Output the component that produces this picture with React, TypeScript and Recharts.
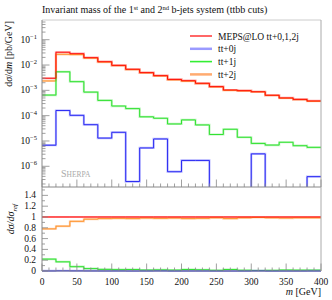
import React from 'react';
import { LineChart, Line, XAxis, YAxis } from 'recharts';

// ---- data (20 GeV bins, 0-400 GeV) ----
const binEdges = [0, 20, 40, 60, 80, 100, 120, 140, 160, 180, 200, 220, 240, 260, 280, 300, 320, 340, 360, 380, 400];

const mepsTotal = [3.0e-3, 0.032, 0.028, 0.0195, 0.0135, 0.0097, 0.0068, 0.005, 0.0038, 0.0027, 0.0024, 0.0019, 0.0014, 0.00103, 0.00097, 0.00088, 0.00064, 0.0005, 0.00044, 0.00038];
const tt0j = [6.8e-6, 1.6e-4, 1.03e-4, 4.4e-5, 1.3e-5, 2.2e-5, 2.5e-7, 5.3e-6, 1.2e-5, 6.1e-7, 1.7e-6, 1.7e-6, 0, 0, 0, 3.1e-6, 0, 0, 0, 3.9e-7];
const tt1j = [6.5e-4, 5.4e-3, 2.2e-3, 8.5e-4, 4.0e-4, 2.4e-4, 1.9e-4, 9.0e-5, 7.9e-5, 4.7e-5, 6.8e-5, 4.3e-5, 1.8e-5, 2.9e-5, 1.4e-5, 8.0e-6, 6.9e-6, 8.9e-6, 6.5e-6, 5.6e-6];
const tt2j = [2.35e-3, 0.0265, 0.0258, 0.0187, 0.0131, 0.0095, 0.0066, 0.0049, 0.0037, 0.0026, 0.0023, 0.00185, 0.00137, 0.001, 0.00095, 0.00087, 0.00063, 0.00049, 0.00043, 0.00037];

const ratioMeps = [1, 1, 1, 1, 1, 1, 1, 1, 1, 1, 1, 1, 1, 1, 1, 1, 1, 1, 1, 1];
const ratio0j = [0.002, 0.005, 0.004, 0.002, 0.001, 0.002, 0, 0.001, 0.003, 0, 0.001, 0.001, 0, 0, 0, 0.004, 0, 0, 0, 0.001];
const ratio1j = [0.22, 0.17, 0.08, 0.045, 0.03, 0.025, 0.028, 0.018, 0.021, 0.017, 0.028, 0.023, 0.013, 0.028, 0.014, 0.009, 0.011, 0.018, 0.015, 0.015];
const ratio2j = [0.78, 0.83, 0.92, 0.96, 0.97, 0.975, 0.97, 0.98, 0.975, 0.98, 0.97, 0.975, 0.985, 0.97, 0.985, 0.99, 0.985, 0.98, 0.985, 0.985];

const xTickValues = [0, 50, 100, 150, 200, 250, 300, 350, 400];
const xTickLabels = ['0', '50', '100', '150', '200', '250', '300', '350', '400'];
const mainDecades = [-7, -6, -5, -4, -3, -2, -1];
const ratioTickValues = [0, 0.2, 0.4, 0.6, 0.8, 1, 1.2, 1.4];
const ratioTickLabels = ['0', '0.2', '0.4', '0.6', '0.8', '1', '1.2', '1.4'];

const legendNames = ['MEPS@LO tt+0,1,2j', 'tt+0j', 'tt+1j', 'tt+2j'];

// ---- derived tables ----
const LOG_MIN = 1.52e-7;
const LOG_MAX = 0.6;
const FLOOR = 1e-12;
const pick = (arr: number[], i: number) => arr[Math.min(i, arr.length - 1)];
const pos = (v: number) => (v > 0 ? v : FLOOR);

const mainRows = binEdges.map((x, i) => ({
  x,
  meps: pos(pick(mepsTotal, i)),
  j0: pos(pick(tt0j, i)),
  j1: pos(pick(tt1j, i)),
  j2: pos(pick(tt2j, i)),
}));
const ratioRows = binEdges.map((x, i) => ({
  x,
  meps: pick(ratioMeps, i),
  j0: pick(ratio0j, i),
  j1: pick(ratio1j, i),
  j2: pick(ratio2j, i),
}));

const xMinorTicks: number[] = [];
for (let v = 0; v <= 400; v += 10) xMinorTicks.push(v);

const mainYTicks: number[] = [];
mainDecades.forEach((d) => {
  for (let k = 1; k <= 9; k++) {
    const v = k * Math.pow(10, d);
    if (v >= LOG_MIN && v <= LOG_MAX) mainYTicks.push(v);
  }
});
const ratioYTicks: number[] = [];
for (let k = 0; k <= 15; k++) ratioYTicks.push(k / 10);

// ---- style ----
const FONT = "'Liberation Serif', 'DejaVu Serif', serif";
const AXIS = '#888';
const FRAME = '#aaa';
const C = {
  meps: '#ff0000', mepsBand: '#ff8080',
  j0: '#1c1cf0', j0Band: '#a0a0ff',
  j1: '#22e022', j1Band: '#a0f0a0',
  j2: '#ff8a1a', j2Band: '#ffc89a',
};
const txt = { fontFamily: FONT } as React.CSSProperties;

const XTickUp = (withLabel: boolean) => (props: any) => {
  const { x, y, payload } = props;
  const v = payload.value as number;
  const major = v % 50 === 0;
  const idx = xTickValues.indexOf(v);
  return (
    <g>
      <line x1={x} x2={x} y1={y} y2={y - (major ? 7.5 : 3.5)} stroke={AXIS} strokeWidth={0.8} />
      {withLabel && major && idx >= 0 ? (
        <text x={x} y={y + 13.5} textAnchor="middle" fontSize={9.5} style={txt} fill="#111">
          {xTickLabels[idx]}
        </text>
      ) : null}
    </g>
  );
};

const MainYTick = (props: any) => {
  const { x, y, payload } = props;
  const v = payload.value as number;
  const e = Math.log10(v);
  const major = Math.abs(e - Math.round(e)) < 1e-6;
  const exp = Math.round(e);
  return (
    <g>
      <line x1={x} x2={x + (major ? 7.5 : 3.5)} y1={y} y2={y} stroke={AXIS} strokeWidth={0.8} />
      {major && mainDecades.indexOf(exp) >= 0 && exp >= -6 ? (
        <text x={x - 5} y={y + 3} textAnchor="end" fontSize={9.5} style={txt} fill="#111">
          <tspan>10</tspan>
          <tspan dy={-4} fontSize={6.5}>{'\u2212' + String(-exp)}</tspan>
        </text>
      ) : null}
    </g>
  );
};

const RatioYTick = (props: any) => {
  const { x, y, payload } = props;
  const v = payload.value as number;
  const tenth = Math.round(v * 10);
  const major = tenth % 2 === 0;
  const idx = ratioTickValues.findIndex((t) => Math.abs(t - v) < 1e-6);
  return (
    <g>
      <line x1={x} x2={x + (major ? 6 : 3)} y1={y} y2={y} stroke={AXIS} strokeWidth={0.8} />
      {major && idx >= 0 ? (
        <text x={x - 6} y={y + 3} textAnchor="end" fontSize={9.5} style={txt} fill="#111">
          {ratioTickLabels[idx]}
        </text>
      ) : null}
    </g>
  );
};

const seriesLines = (keys: Array<'meps' | 'j0' | 'j1' | 'j2'>) => {
  const out: any[] = [];
  const order: Array<'j2' | 'j1' | 'j0' | 'meps'> = ['j2', 'j1', 'j0', 'meps'];
  order.forEach((k) => {
    if (keys.indexOf(k) < 0) return;
    out.push(
      <Line key={k + 'b'} dataKey={k} type="stepAfter" dot={false} activeDot={false}
        stroke={(C as any)[k + 'Band']} strokeWidth={2.2} strokeOpacity={0.7} isAnimationActive={false} />
    );
  });
  order.forEach((k) => {
    if (keys.indexOf(k) < 0) return;
    out.push(
      <Line key={k} dataKey={k} type="stepAfter" dot={false} activeDot={false}
        stroke={(C as any)[k]} strokeWidth={0.9} isAnimationActive={false} />
    );
  });
  return out;
};

const legendStyles = [
  { color: C.meps, w: 1.2 },
  { color: '#9a9aff', w: 2.5 },
  { color: '#33ee33', w: 1.6 },
  { color: '#ffab70', w: 2.5 },
];

export default function App() {
  return (
    <div style={{ position: 'absolute', left: 0, top: 0, width: 332, height: 300, background: '#fff' }}>
      <div style={{ position: 'absolute', left: 0, top: 0 }}>
        <LineChart width={332} height={190} data={mainRows} margin={{ top: 19, right: 0, bottom: 0, left: 0 }}>
          <XAxis xAxisId="top" orientation="top" dataKey="x" type="number" domain={[0, 400]} height={1}
            tick={false} tickLine={false} axisLine={{ stroke: '#ccc' }} />
          <XAxis dataKey="x" type="number" domain={[0, 400]} ticks={xMinorTicks} interval={0} height={3}
            tickSize={0} tickMargin={0} tickLine={false} axisLine={{ stroke: AXIS }} tick={XTickUp(false)} />
          <YAxis scale="log" type="number" domain={[LOG_MIN, LOG_MAX]} allowDataOverflow ticks={mainYTicks}
            interval={0} width={42} tickSize={0} tickMargin={0} tickLine={false} axisLine={{ stroke: AXIS }} tick={MainYTick} />
          <YAxis yAxisId="right" orientation="right" type="number" domain={[0, 1]} width={11}
            tick={false} tickLine={false} axisLine={{ stroke: FRAME }} />
          {seriesLines(['meps', 'j0', 'j1', 'j2'])}
        </LineChart>
      </div>
      <div style={{ position: 'absolute', left: 0, top: 187 }}>
        <LineChart width={332} height={113} data={ratioRows} margin={{ top: 0, right: 0, bottom: 0, left: 0 }}>
          <XAxis dataKey="x" type="number" domain={[0, 400]} ticks={xMinorTicks} interval={0} height={29}
            tickSize={0} tickMargin={0} tickLine={false} axisLine={{ stroke: AXIS }} tick={XTickUp(true)} />
          <YAxis type="number" domain={[0, 1.555]} ticks={ratioYTicks} interval={0} width={42}
            tickSize={0} tickMargin={0} tickLine={false} axisLine={{ stroke: AXIS }} tick={RatioYTick} />
          <YAxis yAxisId="right" orientation="right" type="number" domain={[0, 1]} width={11}
            tick={false} tickLine={false} axisLine={{ stroke: FRAME }} />
          {seriesLines(['meps', 'j0', 'j1', 'j2'])}
        </LineChart>
      </div>
      <svg width={332} height={300} style={{ position: 'absolute', left: 0, top: 0, pointerEvents: 'none', fontFamily: FONT }}>
        <text x={42} y={13} fontSize={10} fill="#111" style={txt}>
          <tspan>Invariant mass of the 1</tspan>
          <tspan dy={-3.5} fontSize={6.5}>st</tspan>
          <tspan dy={3.5}> and 2</tspan>
          <tspan dy={-3.5} fontSize={6.5}>nd</tspan>
          <tspan dy={3.5}> b-jets system (ttbb cuts)</tspan>
        </text>
        {legendNames.map((name, i) => (
          <g key={name}>
            <line x1={190} x2={212} y1={36 + i * 12.8} y2={36 + i * 12.8}
              stroke={legendStyles[i].color} strokeWidth={legendStyles[i].w} />
            <text x={218} y={39.5 + i * 12.8} fontSize={9.5} fill="#111" style={txt}>{name}</text>
          </g>
        ))}
        <text x={61} y={176.5} fontSize={10} fill="#aaa" style={txt}>
          <tspan>S</tspan><tspan fontSize={7.5}>HERPA</tspan>
        </text>
        <text transform="translate(11.5,21) rotate(-90)" textAnchor="end" fontSize={10} fill="#111" style={txt}>
          <tspan>d</tspan><tspan fontStyle="italic">σ</tspan><tspan>/d</tspan><tspan fontStyle="italic">m</tspan><tspan> [pb/GeV]</tspan>
        </text>
        <text transform="translate(14,204) rotate(-90)" textAnchor="end" fontSize={10} fill="#111" fontStyle="italic" style={txt}>
          <tspan>dσ/dσ</tspan><tspan dy={2.5} fontSize={7}>ref</tspan>
        </text>
        <text x={321} y={295} textAnchor="end" fontSize={10} fill="#111" style={txt}>
          <tspan fontStyle="italic">m</tspan><tspan> [GeV]</tspan>
        </text>
      </svg>
    </div>
  );
}
